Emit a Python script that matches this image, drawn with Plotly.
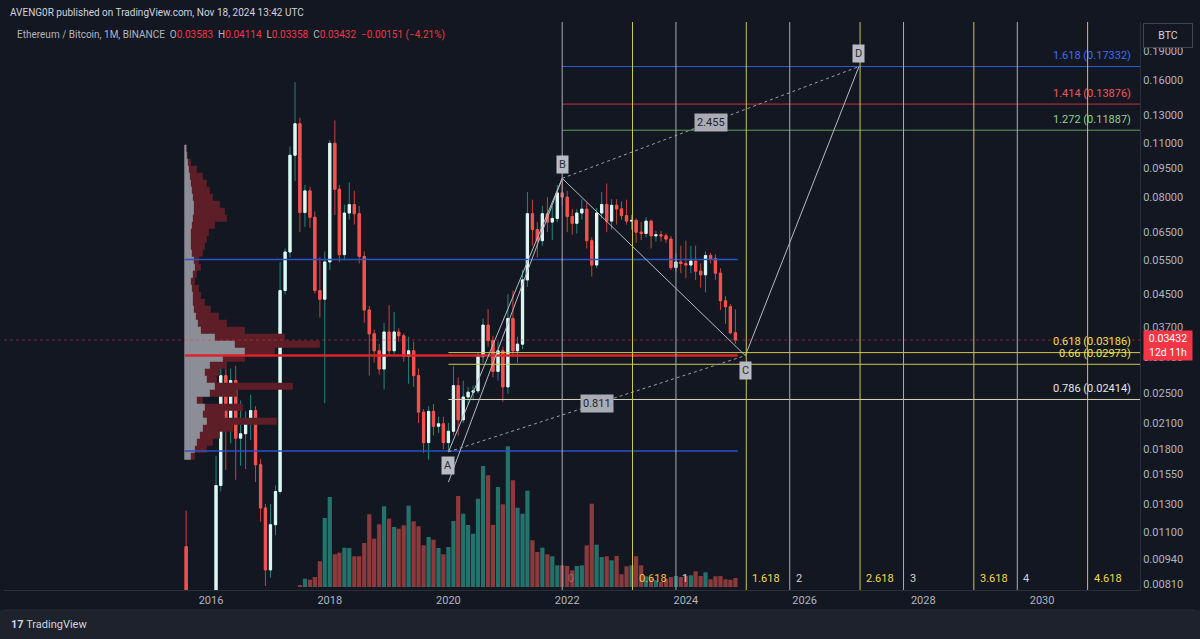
import numpy as np
import pandas as pd
import plotly.graph_objects as go

# ---------------- data ----------------
start_month = "2015-08-01"
opens = [0.0101, 0.0059, 0.0037, 0.0030, 0.0023,
         0.0022, 0.0058, 0.0145, 0.0278, 0.0205, 0.0270, 0.0192, 0.0197, 0.0212, 0.0226, 0.0164, 0.0127,
         0.0088, 0.0115, 0.0140, 0.0460, 0.0578, 0.1025, 0.1235, 0.0730, 0.0830, 0.0710, 0.0460, 0.0437,
         0.0545, 0.1100, 0.0838, 0.0569, 0.0728, 0.0765, 0.0725, 0.0563, 0.0410, 0.0356, 0.0322, 0.0289,
         0.0360, 0.0322, 0.0360, 0.0352, 0.0312, 0.0322, 0.0278, 0.0224, 0.0187, 0.0225, 0.0206, 0.0209,
         0.0187, 0.0200, 0.0262, 0.0214, 0.0245, 0.0252, 0.0254, 0.0311, 0.0375, 0.0342, 0.0285, 0.0322,
         0.0260, 0.0390, 0.0322, 0.0335, 0.0490, 0.0725, 0.0660, 0.0618, 0.0725, 0.0690, 0.0705, 0.0820,
         0.0800, 0.0713, 0.0685, 0.0728, 0.0745, 0.0618, 0.0535, 0.0728, 0.0766, 0.0694, 0.0762, 0.0746,
         0.0717, 0.0694, 0.0697, 0.0650, 0.0645, 0.0694, 0.0636, 0.0640, 0.0636, 0.0624, 0.0527, 0.0545,
         0.0540, 0.0535, 0.0548, 0.0516, 0.0505, 0.0566, 0.0556, 0.0510, 0.0433, 0.0418, 0.03583]
highs = [0.0125, 0.0062, 0.0041, 0.0032, 0.0026,
         0.0064, 0.0173, 0.0371, 0.0290, 0.0290, 0.0295, 0.0240, 0.0225, 0.0248, 0.0232, 0.0170, 0.0130,
         0.0130, 0.0145, 0.0545, 0.0590, 0.1080, 0.1580, 0.1280, 0.0860, 0.0850, 0.0735, 0.0560, 0.0580,
         0.1123, 0.1260, 0.0860, 0.0765, 0.0872, 0.0830, 0.0760, 0.0580, 0.0420, 0.0365, 0.0335, 0.0380,
         0.0422, 0.0405, 0.0368, 0.0357, 0.0350, 0.0340, 0.0290, 0.0228, 0.0232, 0.0235, 0.0218, 0.0218,
         0.0210, 0.0294, 0.0275, 0.0270, 0.0260, 0.0262, 0.0320, 0.0390, 0.0412, 0.0352, 0.0340, 0.0330,
         0.0450, 0.0460, 0.0350, 0.0520, 0.0825, 0.0788, 0.0690, 0.0760, 0.0800, 0.0760, 0.0860, 0.0894,
         0.0830, 0.0745, 0.0745, 0.0790, 0.0775, 0.0630, 0.0750, 0.0825, 0.0867, 0.0790, 0.0790, 0.0780,
         0.0788, 0.0720, 0.0705, 0.0690, 0.0710, 0.0700, 0.0655, 0.0655, 0.0645, 0.0635, 0.0575, 0.0600,
         0.0618, 0.0600, 0.0600, 0.0540, 0.0580, 0.0575, 0.0570, 0.0525, 0.0445, 0.0425, 0.04114]
lows = [0.0052, 0.0034, 0.0027, 0.0021, 0.0020,
        0.0021, 0.0056, 0.0140, 0.0159, 0.0186, 0.0150, 0.0163, 0.0160, 0.0190, 0.0148, 0.0117, 0.0080,
        0.0084, 0.0108, 0.0138, 0.0450, 0.0560, 0.0880, 0.0650, 0.0671, 0.0667, 0.0452, 0.0392, 0.0236,
        0.0520, 0.0720, 0.0545, 0.0550, 0.0700, 0.0680, 0.0540, 0.0380, 0.0278, 0.0300, 0.0280, 0.0256,
        0.0315, 0.0315, 0.0340, 0.0302, 0.0265, 0.0260, 0.0210, 0.0176, 0.0169, 0.0195, 0.0198, 0.0180,
        0.0177, 0.0195, 0.0195, 0.0210, 0.0235, 0.0240, 0.0250, 0.0300, 0.0330, 0.0275, 0.0270, 0.0238,
        0.0250, 0.0310, 0.0300, 0.0325, 0.0470, 0.0600, 0.0560, 0.0600, 0.0650, 0.0620, 0.0690, 0.0760,
        0.0650, 0.0640, 0.0645, 0.0700, 0.0590, 0.0500, 0.0525, 0.0705, 0.0650, 0.0660, 0.0680, 0.0700,
        0.0680, 0.0660, 0.0610, 0.0620, 0.0630, 0.0590, 0.0615, 0.0615, 0.0610, 0.0520, 0.0515, 0.0510,
        0.0495, 0.0510, 0.0490, 0.0468, 0.0455, 0.0540, 0.0490, 0.0410, 0.0378, 0.0355, 0.03358]
closes = [0.0059, 0.0037, 0.0030, 0.0023, 0.0022,
          0.0058, 0.0145, 0.0278, 0.0205, 0.0270, 0.0192, 0.0197, 0.0212, 0.0226, 0.0164, 0.0127, 0.0088,
          0.0115, 0.0140, 0.0460, 0.0578, 0.1025, 0.1235, 0.0730, 0.0830, 0.0710, 0.0460, 0.0437, 0.0545,
          0.1100, 0.0838, 0.0569, 0.0728, 0.0765, 0.0725, 0.0563, 0.0410, 0.0356, 0.0322, 0.0289, 0.0360,
          0.0322, 0.0360, 0.0352, 0.0312, 0.0322, 0.0278, 0.0224, 0.0187, 0.0225, 0.0206, 0.0209, 0.0187,
          0.0200, 0.0262, 0.0214, 0.0245, 0.0252, 0.0254, 0.0311, 0.0375, 0.0342, 0.0285, 0.0322, 0.0260,
          0.0390, 0.0322, 0.0335, 0.0490, 0.0725, 0.0660, 0.0618, 0.0725, 0.0690, 0.0705, 0.0820, 0.0800,
          0.0713, 0.0685, 0.0728, 0.0745, 0.0618, 0.0535, 0.0728, 0.0766, 0.0694, 0.0762, 0.0746, 0.0717,
          0.0694, 0.0697, 0.0650, 0.0645, 0.0694, 0.0636, 0.0640, 0.0636, 0.0624, 0.0527, 0.0545, 0.0540,
          0.0535, 0.0548, 0.0516, 0.0505, 0.0566, 0.0556, 0.0510, 0.0433, 0.0418, 0.03583, 0.03432]
# monthly volume (relative units); Binance pair starts mid-2017
volumes = ([0] * 23 + [1.7] +
           [8.3, 7.3, 10, 25.7, 69,
            90, 32.7, 34.3, 39.3, 39, 30.7, 30.7, 44, 72.7, 48.3, 62.7, 80.7,
            68.3, 60, 58.3, 61.7, 81.3, 65.7, 60.7, 41.7, 50, 47.3, 39, 32.7,
            40, 66, 91, 73.3, 62, 53.3, 88.3, 121, 111.7, 62, 100, 82.7,
            140.7, 106.7, 79.3, 73.3, 96.3, 46.7, 35, 39.3, 32.7, 30.7, 21.7, 21.7,
            21, 16.7, 21, 21.7, 41.7, 83.3, 42.3, 30, 30.7, 26.7, 31, 12.7,
            20.7, 21.7, 30.7, 21.7, 10.7, 8.3, 6.7, 5, 8.3, 10, 11, 10,
            11, 11.7, 15.7, 11, 14.7, 7.7, 10.7, 11, 7.7, 7.3, 9])

# fixed range volume profile rows, top -> bottom
profile_top = 0.109
profile_bottom = 0.0169
profile_total = [2, 3, 6, 12, 18, 22, 25, 28, 35, 40, 42, 30, 24, 22, 20, 18, 14, 16, 12, 10, 14, 16,
                 20, 26, 34, 42, 60, 100, 135, 90, 60, 42, 35, 32, 108, 52, 18, 58, 40, 92, 48, 35, 28, 22, 10]
profile_up = [1.5, 2, 3, 4, 5, 6, 7, 8, 9, 9, 8, 7, 6, 6, 6, 7, 9, 10, 8, 6, 7, 8,
              8, 9, 11, 13, 16, 30, 50, 60, 38, 25, 20, 22, 30, 25, 12, 20, 18, 22, 18, 15, 12, 10, 6]
profile_start = "2015-07-24"
profile_end = "2024-11-15"

level_blue_upper = 0.0553
level_blue_lower = 0.0178
level_poc = 0.0313
last_price = 0.03432

fib_ext_levels = ["1.618", "1.414", "1.272"]
fib_ext_prices = [0.17332, 0.13876, 0.11887]
fib_ret_levels = ["0.618", "0.66", "0.786"]
fib_ret_prices = [0.03186, 0.02973, 0.02414]

pattern_names = ["A", "B", "C", "D"]
pattern_dates = ["2020-01-01", "2021-12-01", "2025-01-01", "2026-12-01"]
pattern_prices = [0.0177, 0.0894, 0.0313, 0.1733]
leg_start_price = 0.0148
ratio_labels = ["0.811", "2.455"]

tz_anchor = "2021-12-01"
tz_step_months = 23
tz_levels = [0, 0.618, 1, 1.618, 2, 2.618, 3, 3.618, 4, 4.618]
tz_labels = ["0", "0.618", "1", "1.618", "2", "2.618", "3", "3.618", "4", "4.618"]

ytick_vals = [0.19, 0.16, 0.13, 0.11, 0.095, 0.08, 0.065, 0.055, 0.045, 0.037, 0.031, 0.025,
              0.021, 0.018, 0.0155, 0.013, 0.011, 0.0094, 0.0081]
year_ticks = [2016, 2018, 2020, 2022, 2024, 2026, 2028, 2030]

# ---------------- styling ----------------
BG = "#131722"
UP_WICK, UP_BODY = "#23867d", "#e2f6f3"
DN_WICK, DN_BODY = "#c9403e", "#f05350"
VOL_UP, VOL_DN = "#24726c", "#8d3a3c"
YELLOW = "#cfc64a"
WHITE_LINE = "#a9acb5"
FONT = "Roboto"

dates = pd.date_range(start_month, periods=len(opens), freq="MS")
o = np.array(opens); c = np.array(closes)

W, H = 1200, 639
L_M, R_M, T_M, B_M = 4, 60, 22, 49
PLOT_W = W - L_M - R_M
PLOT_H = H - T_M - B_M
PX_PER_YEAR = 59.357
ref = pd.Timestamp("2016-01-01")
x_left = ref - pd.Timedelta(days=(211 - L_M) / PX_PER_YEAR * 365.25)
x_right = ref + pd.Timedelta(days=(W - R_M - 211) / PX_PER_YEAR * 365.25)
y_lo, y_hi = 0.007813, 0.2256
DAYS_PER_UNIT = 365.25 / PX_PER_YEAR


def px_x(px):
    return (px - L_M) / PLOT_W


def px_y(py):
    return 1 - (py - T_M) / PLOT_H


fig = go.Figure()

# volume (linear axis y, hidden)
vol_colors = [VOL_UP if cc >= oo else VOL_DN for oo, cc in zip(opens, closes)]
fig.add_trace(go.Bar(x=dates, y=volumes, marker=dict(color=vol_colors, line=dict(width=0)),
                     width=26 * 86400000, yaxis="y", hoverinfo="skip"))

# volume profile
anchor = pd.Timestamp(profile_start)
edges = np.geomspace(profile_top, profile_bottom, len(profile_total) + 1)


def profile_poly(widths):
    xs, ys = [anchor], [edges[0]]
    for k, w in enumerate(widths):
        xr = anchor + pd.Timedelta(days=w * DAYS_PER_UNIT)
        xs += [xr, xr]
        ys += [edges[k], edges[k + 1]]
    xs.append(anchor); ys.append(edges[-1])
    return xs, ys


for widths, col in [(profile_total, "#5e1e27"), (profile_up, "#8b8e97")]:
    xs, ys = profile_poly(widths)
    fig.add_trace(go.Scatter(x=xs, y=ys, yaxis="y2", fill="toself", fillcolor=col, mode="lines",
                             line=dict(width=0), hoverinfo="skip"))
fig.add_trace(go.Scatter(x=[anchor, anchor], y=[profile_top, profile_bottom], yaxis="y2", mode="lines",
                         line=dict(color="#8b8e97", width=1), hoverinfo="skip"))


# horizontal levels
def hline(x0, x1, yv, color, width=1, dash="solid"):
    fig.add_trace(go.Scatter(x=[x0, x1], y=[yv, yv], yaxis="y2", mode="lines",
                             line=dict(color=color, width=width, dash=dash), hoverinfo="skip"))


hline(x_left, x_right, last_price, "rgba(242,54,69,0.5)", 1, "dot")
hline(profile_start, profile_end, level_blue_upper, "#2a52c9", 1.5)
hline(profile_start, profile_end, level_blue_lower, "#2a52c9", 1.5)

# candles: wicks then bodies
fig.add_trace(go.Candlestick(x=dates, open=opens, high=highs, low=lows, close=closes, yaxis="y2",
                             increasing=dict(line=dict(color=UP_WICK, width=1), fillcolor=UP_BODY),
                             decreasing=dict(line=dict(color=DN_WICK, width=1), fillcolor=DN_BODY),
                             whiskerwidth=0, hoverinfo="skip"))
fig.add_trace(go.Candlestick(x=dates, open=opens, high=np.maximum(o, c), low=np.minimum(o, c), close=closes,
                             yaxis="y2",
                             increasing=dict(line=dict(color=UP_BODY, width=1), fillcolor=UP_BODY),
                             decreasing=dict(line=dict(color=DN_BODY, width=1), fillcolor=DN_BODY),
                             whiskerwidth=0, hoverinfo="skip"))

hline(profile_start, profile_end, level_poc, "#e0222a", 2.5)

# fib levels
ext_line_cols = ["#2f5bd8", "#c8323c", "#5a9e5e"]
ext_text_cols = ["#3f6cf0", "#f0575a", "#8fd18f"]
for lv, pr, lc in zip(fib_ext_levels, fib_ext_prices, ext_line_cols):
    hline(pattern_dates[1], x_right, pr, lc, 1)
ret_line_cols = [YELLOW, YELLOW, "#d8d6b8"]
ret_text_cols = ["#f0e04a", "#f0e04a", "#e6e6e6"]
for lv, pr, lc in zip(fib_ret_levels, fib_ret_prices, ret_line_cols):
    hline(pattern_dates[0], x_right, pr, lc, 1)

# pattern lines
pd_dates = [pd.Timestamp(d) for d in pattern_dates]
fig.add_trace(go.Scatter(x=pd_dates, y=pattern_prices, yaxis="y2", mode="lines",
                         line=dict(color="#b7bac2", width=1), hoverinfo="skip"))
fig.add_trace(go.Scatter(x=[pd_dates[0], pd_dates[1]], y=[leg_start_price, pattern_prices[1]], yaxis="y2",
                         mode="lines", line=dict(color="#b7bac2", width=1), hoverinfo="skip"))
for i, j in [(0, 2), (1, 3)]:
    fig.add_trace(go.Scatter(x=[pd_dates[i], pd_dates[j]], y=[pattern_prices[i], pattern_prices[j]], yaxis="y2",
                             mode="lines", line=dict(color="#9a9da6", width=1, dash="dot"), hoverinfo="skip"))

shapes = []
annotations = []

# fib time zones
tz_dates = [pd.Timestamp(tz_anchor) + pd.Timedelta(days=lv * tz_step_months * 30.44) for lv in tz_levels]
for lv, d, lab in zip(tz_levels, tz_dates, tz_labels):
    is_frac = (lv % 1) != 0
    col = YELLOW if is_frac else WHITE_LINE
    shapes.append(dict(type="line", xref="x", yref="paper", x0=d, x1=d, y0=0, y1=1,
                       line=dict(color=col, width=1), layer="above"))
    tcol = "#f0d84a" if is_frac else "#d1d4dc"
    if lv == 0:
        tcol = "rgba(178,181,190,0.45)"
    if lv == 0.618:
        tcol = "#f2c24a"
    annotations.append(dict(x=d, xref="x", y=px_y(578), yref="paper", text=lab, showarrow=False,
                            xanchor="left", yanchor="middle", xshift=4,
                            font=dict(color=tcol, size=11, family=FONT)))

# fib labels
for lv, pr, tc in zip(fib_ext_levels + fib_ret_levels, fib_ext_prices + fib_ret_prices,
                      ext_text_cols + ret_text_cols):
    annotations.append(dict(x=px_x(1133), xref="paper", y=np.log10(pr), yref="y2",
                            text=f"{lv} ({pr:.5f})", showarrow=False, xanchor="right", yanchor="middle",
                            yshift=11, font=dict(color=tc, size=11, family=FONT)))

# point labels
shifts = [-14, 14, -15, 13]
for nm, d, pr, sh in zip(pattern_names, pd_dates, pattern_prices, shifts):
    annotations.append(dict(x=d, xref="x", y=np.log10(pr), yref="y2", text=nm, showarrow=False,
                            xanchor="center", yanchor="middle",
                            yshift=sh, bgcolor="#b8bbc3", borderpad=2,
                            font=dict(color="#2a2e39", size=11, family=FONT)))
for (i, j), lab in zip([(0, 2), (1, 3)], ratio_labels):
    mid_d = pd_dates[i] + (pd_dates[j] - pd_dates[i]) / 2
    mid_y = (np.log10(pattern_prices[i]) + np.log10(pattern_prices[j])) / 2
    annotations.append(dict(x=mid_d, xref="x", y=mid_y, yref="y2", text=lab, showarrow=False,
                            xanchor="center", yanchor="middle",
                            bgcolor="#a9acb4", borderpad=2, font=dict(color="#1e222d", size=11, family=FONT)))

# header
annotations.append(dict(x=px_x(8), xref="paper", y=px_y(13), yref="paper", xanchor="left", yanchor="middle",
                        showarrow=False, text="AVENG0R published on TradingView.com, Nov 18, 2024 13:42 UTC",
                        font=dict(color="#d1d4dc", size=10, family=FONT)))
R = "#f23645"
hdr = ("Ethereum / Bitcoin, 1M, BINANCE  "
       f"O<span style='color:{R}'>0.03583</span>  H<span style='color:{R}'>0.04114</span>  "
       f"L<span style='color:{R}'>0.03358</span>  C<span style='color:{R}'>0.03432</span>  "
       f"<span style='color:{R}'>−0.00151 (−4.21%)</span>")
annotations.append(dict(x=px_x(15), xref="paper", y=px_y(35), yref="paper", xanchor="left", yanchor="middle",
                        showarrow=False, text=hdr, font=dict(color="#b2b5be", size=10, family=FONT)))

# price label box + currency box
annotations.append(dict(x=px_x(1168), xref="paper", y=np.log10(last_price), yref="y2", yshift=-5,
                        xanchor="center", yanchor="middle",
                        text="0.03432<br>12d 11h", showarrow=False, bgcolor="#f23645", width=46,
                        borderpad=1, align="center", font=dict(color="#ffffff", size=10.5, family=FONT)))
annotations.append(dict(x=px_x(1168), xref="paper", y=px_y(36), yref="paper", text="BTC", showarrow=False,
                        xanchor="center", yanchor="middle",
                        bgcolor=BG, bordercolor="#434651", borderwidth=1, borderpad=5, width=38,
                        font=dict(color="#d1d4dc", size=10.5, family=FONT)))
# footer logo text
annotations.append(dict(x=px_x(9), xref="paper", y=px_y(624), yref="paper", xanchor="left", yanchor="middle",
                        showarrow=False, text="<b>17</b> TradingView",
                        font=dict(color="#d1d4dc", size=11, family=FONT)))

# frame
shapes.append(dict(type="rect", xref="paper", yref="paper", x0=px_x(0), x1=px_x(W), y0=px_y(610), y1=px_y(H),
                   fillcolor="#1e222d", line=dict(width=0), layer="below"))
shapes.append(dict(type="line", xref="paper", yref="paper", x0=px_x(4), x1=px_x(1194), y0=px_y(610),
                   y1=px_y(610), line=dict(color="#2a2e39", width=1)))

fig.update_layout(
    width=W, height=H, margin=dict(l=L_M, r=R_M, t=T_M, b=B_M),
    paper_bgcolor=BG, plot_bgcolor=BG, showlegend=False,
    shapes=shapes, annotations=annotations,
    xaxis=dict(type="date", range=[x_left, x_right], rangeslider=dict(visible=False), showgrid=False,
               zeroline=False, showline=True, linecolor="#2a2e39",
               tickvals=[f"{y}-01-01" for y in year_ticks], ticktext=[str(y) for y in year_ticks],
               tickfont=dict(color="#b2b5be", size=11, family=FONT), ticks=""),
    yaxis=dict(range=[-3, PLOT_H - 3], visible=False, fixedrange=True),
    yaxis2=dict(type="log", overlaying="y", side="right", range=[np.log10(y_lo), np.log10(y_hi)],
                showgrid=False, zeroline=False, showline=True, linecolor="#2a2e39",
                tickvals=ytick_vals, ticktext=[f"{v:.5f}" for v in ytick_vals], ticks="",
                tickfont=dict(color="#b2b5be", size=11, family=FONT)),
)

fig.write_html("out.html")
